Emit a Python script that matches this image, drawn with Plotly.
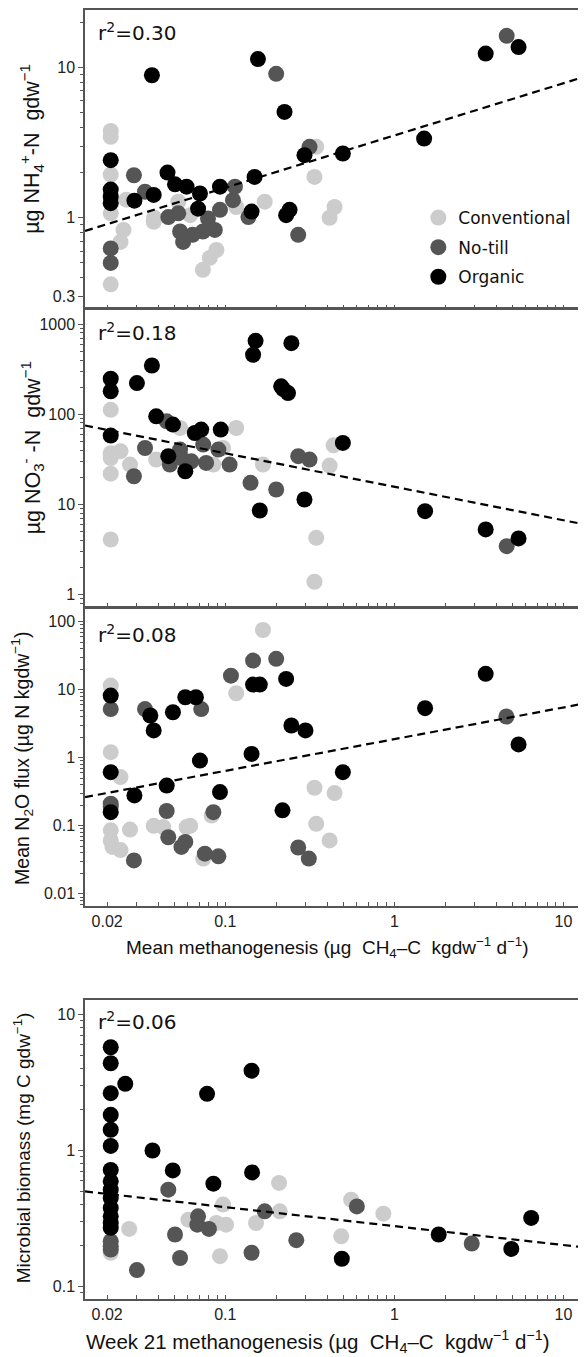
import plotly.graph_objects as go

# ---------------- Data ----------------
categories = ["Conventional", "No-till", "Organic"]
colors = ["#cccccc", "#555555", "#000000"]

# Panel 1: NH4+-N vs mean methanogenesis
nh4_conv_x = [0.021, 0.021, 0.021, 0.021, 0.025, 0.024, 0.021, 0.026, 0.0377, 0.038, 0.0527, 0.062, 0.0737, 0.081, 0.0886, 0.116, 0.171, 0.345, 0.337, 0.443, 0.414]
nh4_conv_y = [3.79, 3.46, 1.94, 1.07, 0.83, 0.69, 0.36, 1.32, 0.94, 1.0, 1.28, 1.04, 0.45, 0.54, 0.61, 1.18, 1.28, 2.97, 1.87, 1.18, 1.0]
nh4_nt_x = [0.021, 0.021, 0.0288, 0.0335, 0.046, 0.0527, 0.054, 0.0563, 0.064, 0.0737, 0.079, 0.0867, 0.093, 0.111, 0.114, 0.137, 0.20, 0.315, 0.27, 4.62]
nh4_nt_y = [0.625, 0.50, 1.92, 1.49, 1.01, 1.07, 0.81, 0.69, 0.77, 0.81, 0.99, 0.83, 1.13, 1.31, 1.61, 1.01, 9.1, 2.97, 0.77, 16.3]
nh4_org_x = [0.021, 0.021, 0.021, 0.021, 0.029, 0.0377, 0.0368, 0.0455, 0.0504, 0.059, 0.0708, 0.069, 0.093, 0.149, 0.143, 0.156, 0.224, 0.229, 0.24, 0.294, 0.496, 1.50, 3.47, 5.43]
nh4_org_y = [2.42, 1.54, 1.38, 1.25, 1.30, 1.42, 8.9, 2.0, 1.67, 1.61, 1.45, 1.15, 1.61, 1.87, 1.10, 11.4, 5.07, 1.04, 1.13, 2.61, 2.68, 3.37, 12.4, 13.7]
nh4_fit_x = [0.0148, 13.2]
nh4_fit_y = [0.816, 8.67]
nh4_r2 = "0.30"

# Panel 2: NO3--N
no3_conv_x = [0.021, 0.021, 0.024, 0.021, 0.021, 0.0273, 0.021, 0.039, 0.054, 0.085, 0.097, 0.116, 0.167, 0.414, 0.437, 0.345, 0.337]
no3_conv_y = [112, 37, 38.9, 32.7, 21.9, 27.6, 4.07, 31.4, 70.3, 27.6, 42.2, 70.3, 27.6, 26.9, 45.2, 4.24, 1.38]
no3_nt_x = [0.0288, 0.0335, 0.045, 0.047, 0.054, 0.055, 0.063, 0.074, 0.077, 0.091, 0.106, 0.141, 0.20, 0.27, 0.315, 4.62]
no3_nt_y = [20.5, 42.2, 83.4, 27.6, 40.5, 32.7, 30, 46, 28.8, 40.5, 27.6, 17.3, 14.6, 34.2, 31.4, 3.43]
no3_org_x = [0.021, 0.021, 0.021, 0.030, 0.0368, 0.039, 0.049, 0.046, 0.058, 0.066, 0.072, 0.094, 0.16, 0.146, 0.151, 0.246, 0.214, 0.22, 0.235, 0.294, 0.496, 1.52, 3.47, 5.43]
no3_org_y = [248, 180, 58, 222, 348, 94.8, 76.7, 34.2, 23.3, 61.9, 67.5, 67.5, 8.53, 458, 654, 615, 204, 190, 172, 11.3, 48, 8.4, 5.26, 4.18]
no3_fit_x = [0.0148, 13.2]
no3_fit_y = [75, 6.0]
no3_r2 = "0.18"

# Panel 3: N2O flux
n2o_conv_x = [0.021, 0.021, 0.024, 0.021, 0.021, 0.0215, 0.024, 0.0273, 0.0377, 0.043, 0.059, 0.062, 0.074, 0.083, 0.116, 0.167, 0.337, 0.443, 0.345, 0.414]
n2o_conv_y = [11.5, 1.21, 0.52, 0.086, 0.061, 0.049, 0.044, 0.088, 0.10, 0.096, 0.096, 0.10, 0.033, 0.142, 8.87, 75.5, 0.363, 0.303, 0.107, 0.061]
n2o_nt_x = [0.021, 0.021, 0.021, 0.0288, 0.0335, 0.045, 0.046, 0.058, 0.055, 0.072, 0.0757, 0.091, 0.085, 0.108, 0.146, 0.20, 0.27, 0.312, 4.6]
n2o_nt_y = [5.2, 0.211, 0.19, 0.031, 5.2, 0.165, 0.068, 0.058, 0.049, 5.2, 0.039, 0.0356, 0.159, 16.1, 26.8, 28.4, 0.048, 0.033, 4.04]
n2o_org_x = [0.021, 0.021, 0.021, 0.029, 0.036, 0.0377, 0.045, 0.049, 0.058, 0.067, 0.0708, 0.093, 0.143, 0.146, 0.16, 0.229, 0.218, 0.246, 0.298, 0.496, 1.52, 3.47, 5.43]
n2o_org_y = [8.2, 0.615, 0.159, 0.28, 4.18, 2.52, 0.39, 4.67, 7.75, 7.75, 0.91, 0.313, 1.14, 11.9, 11.9, 14.4, 0.169, 2.98, 2.52, 0.615, 5.35, 17.1, 1.57]
n2o_fit_x = [0.0148, 13.2]
n2o_fit_y = [0.264, 6.24]
n2o_r2 = "0.08"

# Panel 4: microbial biomass vs week 21 methanogenesis
mb_conv_x = [0.021, 0.027, 0.0605, 0.0886, 0.101, 0.097, 0.093, 0.152, 0.208, 0.21, 0.555, 0.861, 0.485]
mb_conv_y = [0.177, 0.265, 0.31, 0.293, 0.285, 0.40, 0.167, 0.293, 0.577, 0.357, 0.435, 0.343, 0.234]
mb_nt_x = [0.021, 0.021, 0.021, 0.030, 0.046, 0.0504, 0.054, 0.069, 0.0683, 0.080, 0.143, 0.171, 0.263, 0.60, 2.87]
mb_nt_y = [0.215, 0.198, 0.187, 0.132, 0.515, 0.241, 0.162, 0.328, 0.285, 0.265, 0.177, 0.357, 0.219, 0.388, 0.207]
mb_org_x = [0.021, 0.021, 0.021, 0.021, 0.021, 0.021, 0.021, 0.021, 0.021, 0.021, 0.021, 0.021, 0.021, 0.021, 0.0256, 0.0371, 0.0489, 0.078, 0.085, 0.143, 0.144, 0.489, 1.83, 4.92, 6.45]
mb_org_y = [5.74, 4.38, 2.64, 1.83, 1.42, 1.08, 0.72, 0.593, 0.515, 0.448, 0.378, 0.328, 0.293, 0.27, 3.09, 1.0, 0.713, 2.61, 0.57, 3.86, 0.69, 0.16, 0.241, 0.189, 0.319]
mb_fit_x = [0.0148, 13.2]
mb_fit_y = [0.50, 0.194]
mb_r2 = "0.06"

# Axis ticks
x_major = [0.02, 0.1, 1, 10]
x_labels = ["0.02", "0.1", "1", "10"]
x_minor = [0.03, 0.04, 0.05, 0.06, 0.07, 0.08, 0.09, 0.2, 0.3, 0.4, 0.5, 0.6, 0.7, 0.8, 0.9,
           2, 3, 4, 5, 6, 7, 8, 9]
decade_minor = [2, 3, 4, 5, 6, 7, 8, 9]

p1_major = [0.3, 1, 10]
p1_labels = ["0.3", "1", "10"]
p2_major = [1, 10, 100, 1000]
p2_labels = ["1", "10", "100", "1000"]
p3_major = [0.01, 0.1, 1, 10, 100]
p3_labels = ["0.01", "0.1", "1", "10", "100"]
p4_major = [0.1, 1, 10]
p4_labels = ["0.1", "1", "10"]

# ---------------- Figure ----------------
panels = [
    (nh4_conv_x, nh4_conv_y, nh4_nt_x, nh4_nt_y, nh4_org_x, nh4_org_y, nh4_fit_x, nh4_fit_y),
    (no3_conv_x, no3_conv_y, no3_nt_x, no3_nt_y, no3_org_x, no3_org_y, no3_fit_x, no3_fit_y),
    (n2o_conv_x, n2o_conv_y, n2o_nt_x, n2o_nt_y, n2o_org_x, n2o_org_y, n2o_fit_x, n2o_fit_y),
    (mb_conv_x, mb_conv_y, mb_nt_x, mb_nt_y, mb_org_x, mb_org_y, mb_fit_x, mb_fit_y),
]

fig = go.Figure()
for i, p in enumerate(panels):
    xa = "x" if i == 0 else f"x{i+1}"
    ya = "y" if i == 0 else f"y{i+1}"
    series = [(p[0], p[1]), (p[2], p[3]), (p[4], p[5])]
    for j, (sx, sy) in enumerate(series):
        fig.add_trace(go.Scatter(
            x=sx, y=sy, mode="markers", name=categories[j],
            marker=dict(size=16, color=colors[j], line=dict(width=0)),
            xaxis=xa, yaxis=ya, showlegend=(i == 0), legendgroup=categories[j],
        ))
    fig.add_trace(go.Scatter(
        x=p[6], y=p[7], mode="lines",
        line=dict(color="black", width=2.2, dash="8px,5px"),
        xaxis=xa, yaxis=ya, showlegend=False, hoverinfo="skip",
    ))

XRANGE = [-1.830, 1.122]
domains = [[0.7686, 1.0], [0.5368, 0.7682], [0.3052, 0.5363], [0.0, 0.2316]]
yranges = [[-0.603, 1.384], [-0.141, 3.171], [-2.172, 2.205], [-1.092, 1.103]]
ymajors = [(p1_major, p1_labels), (p2_major, p2_labels), (p3_major, p3_labels), (p4_major, p4_labels)]

tick_font = dict(family="Liberation Sans, Arial", size=16, color="#222")
line_col = "#555555"


def minor_vals(lo, hi):
    out = []
    for e in range(-3, 4):
        for m in decade_minor:
            v = m * 10 ** e
            if lo < v < hi:
                out.append(v)
    return out


# the page body adds an 8px offset; figure sized so plot box lands where the reference has it
layout = dict(
    width=578, height=1349,
    margin=dict(l=77, r=1, t=0, b=58),
    paper_bgcolor="white", plot_bgcolor="white",
    showlegend=True,
    legend=dict(
        x=0.668, y=0.8526, xanchor="left", yanchor="top",
        font=dict(family="DejaVu Sans", size=17, color="#111"),
        bgcolor="rgba(0,0,0,0)", tracegroupgap=4.5, traceorder="grouped",
        itemwidth=30,
    ),
)
for i in range(4):
    xk = "xaxis" if i == 0 else f"xaxis{i+1}"
    yk = "yaxis" if i == 0 else f"yaxis{i+1}"
    ya = "y" if i == 0 else f"y{i+1}"
    xa = "x" if i == 0 else f"x{i+1}"
    lo, hi = 10 ** yranges[i][0], 10 ** yranges[i][1]
    mv = [v for v in minor_vals(lo, hi) if v not in ymajors[i][0]]
    layout[xk] = dict(
        type="log", range=XRANGE, anchor=ya, domain=[0, 1],
        showline=True, mirror=True, linecolor=line_col, linewidth=1.5,
        ticks="inside", ticklen=4, tickwidth=1, tickcolor=line_col,
        tickmode="array", tickvals=x_major, ticktext=x_labels,
        showticklabels=(i >= 2), tickfont=tick_font,
        showgrid=False, zeroline=False,
        minor=dict(tickmode="array", tickvals=x_minor, ticks="inside", ticklen=4,
                   tickwidth=1, tickcolor=line_col, showgrid=False),
    )
    layout[yk] = dict(
        type="log", range=yranges[i], anchor=xa, domain=domains[i],
        showline=True, mirror=True, linecolor=line_col, linewidth=1.5,
        ticks="outside", ticklen=5, tickwidth=1, tickcolor=line_col,
        tickmode="array", tickvals=ymajors[i][0], ticktext=ymajors[i][1],
        tickfont=tick_font, showgrid=False, zeroline=False,
        minor=dict(tickmode="array", tickvals=mv, ticks="outside", ticklen=3,
                   tickwidth=1, tickcolor=line_col, showgrid=False),
    )

fig.update_layout(**layout)

# r^2 annotations
r2_vals = [nh4_r2, no3_r2, n2o_r2, mb_r2]
r2_y = [0.927, 0.922, 0.912, 0.93]
for i in range(4):
    xa = "x" if i == 0 else f"x{i+1}"
    ya = "y" if i == 0 else f"y{i+1}"
    fig.add_annotation(
        text="r<sup>2</sup>=" + r2_vals[i], xref=f"{xa} domain", yref=f"{ya} domain",
        x=0.022, y=r2_y[i], xanchor="left", yanchor="middle", showarrow=False,
        font=dict(family="DejaVu Sans", size=20, color="#111"),
    )

# axis titles as annotations
nb = "\u00a0"
ytitles = [
    f"µg NH<sub>4</sub><sup>+</sup>-N{nb}{nb}gdw<sup>−1</sup>",
    f"µg NO<sub>3</sub><sup>-</sup>{nb}-N{nb}{nb}gdw<sup>−1</sup>",
    "Mean N<sub>2</sub>O flux (µg N kgdw<sup>−1</sup>)",
    "Microbial biomass (mg C gdw<sup>−1</sup>)",
]
ytitle_pos = [(-0.106, 0.8924, 21.5), (-0.106, 0.6600, 21.5), (-0.126, 0.4191, 19.5), (-0.126, 0.1170, 19)]
for t, (xp, yp, fs) in zip(ytitles, ytitle_pos):
    fig.add_annotation(
        text=t, xref="paper", yref="paper", x=xp, y=yp, textangle=-90,
        xanchor="center", yanchor="middle", showarrow=False,
        font=dict(family="Liberation Sans, Arial", size=fs, color="#111"),
    )

xunit = f"(µg{nb}{nb}CH<sub>4</sub>–C{nb}{nb}kgdw<sup>−1</sup>{nb}d<sup>−1</sup>)"
xtitles = [("Mean methanogenesis " + xunit, 0.485, 0.2727, 19),
           ("Week 21 methanogenesis " + xunit, 0.4667, -0.0333, 20.5)]
for t, xp, yp, fs in xtitles:
    fig.add_annotation(
        text=t, xref="paper", yref="paper", x=xp, y=yp,
        xanchor="center", yanchor="middle", showarrow=False,
        font=dict(family="Liberation Sans, Arial", size=fs, color="#111"),
    )

fig.write_html("out.html")
